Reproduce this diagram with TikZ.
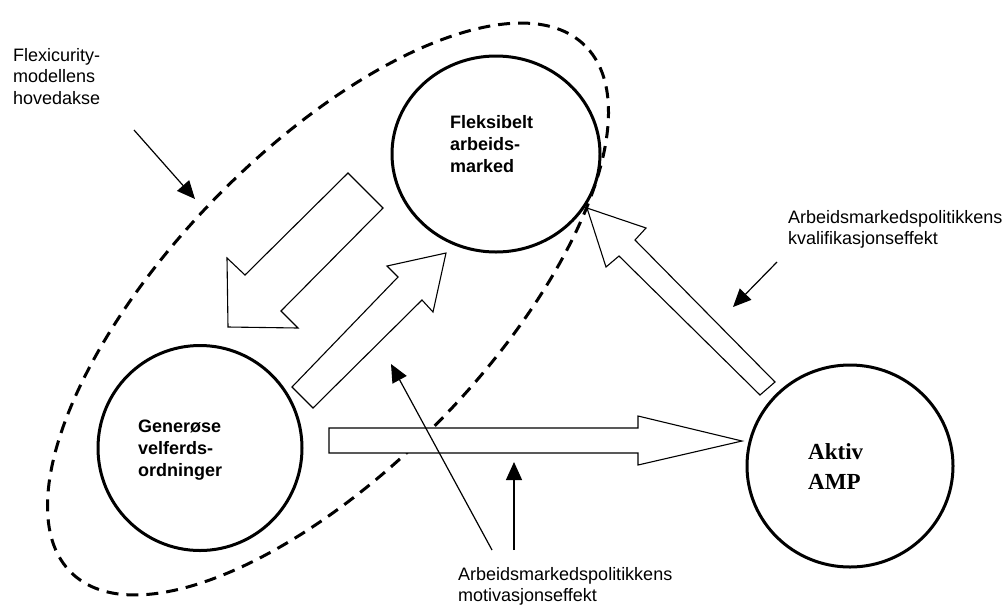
\documentclass[tikz,border=0pt]{standalone}
\usepackage{fontspec}
\setmainfont{Liberation Sans}
\newfontfamily\serifbf{Liberation Serif}
\usetikzlibrary{shapes.geometric,arrows.meta}
\begin{document}
\begin{tikzpicture}[x=1pt,y=-1pt,
  circ/.style={draw, ellipse, line width=3pt, inner sep=0pt},
  blockarrow/.style={draw, fill=white, line width=1.1pt, line join=miter},
  pointer/.style={line width=1.2pt, -{Triangle[length=18pt,width=16pt]}},
  lbl/.style={anchor=north west, inner sep=0pt, align=left, font=\fontsize{18}{21.7}\selectfont},
  ctext/.style={anchor=north west, inner sep=0pt, align=left, font=\fontsize{18}{22}\selectfont\bfseries},
]
\useasboundingbox[fill=white] (0,0) rectangle (1003,606);
% dashed main axis
\node[draw, ellipse, line width=3pt, dash pattern=on 12pt off 8pt, inner sep=0pt,
      minimum width=736pt, minimum height=316pt, rotate=45.8] (axis) at (328,309) {};
% circles
\node[circ, minimum width=208pt, minimum height=196pt] (flex) at (496,154) {};
\node[circ, minimum width=204pt, minimum height=205pt] (gen) at (200,448) {};
\node[circ, minimum width=206pt, minimum height=202pt] (amp) at (850,466) {};
% block arrows
\draw[blockarrow] (348,173) -- (245,275) -- (227,258) -- (228,327) -- (298,328) -- (281,311) -- (383,208) -- cycle;
\draw[blockarrow] (292,387) -- (398,277) -- (387,266) -- (446,253) -- (433,312) -- (422,300) -- (313,408) -- cycle;
\draw[blockarrow] (329,428) -- (638,428) -- (638,416) -- (742,441) -- (638,465) -- (638,453) -- (329,453) -- cycle;
\draw[blockarrow] (775,382) -- (635,240) -- (646,228) -- (587,208) -- (606,267) -- (619,256) -- (760,395) -- cycle;
% texts
\node[lbl] (flexlbl) at (13,48) {Flexicurity-\\modellens\\hovedakse};
\node[lbl] (kvallbl) at (788,210) {Arbeidsmarkedspolitikkens\\kvalifikasjonseffekt};
\node[lbl] (motlbl) at (458,567) {Arbeidsmarkedspolitikkens\\motivasjonseffekt};
\node[ctext] (flextxt) at (450,115) {Fleksibelt\\arbeids-\\marked};
\node[ctext] (gentxt) at (138,420) {Generøse\\velferds-\\ordninger};
\node[anchor=north west, inner sep=0pt, align=left, font=\serifbf\bfseries\fontsize{23}{30}\selectfont] (amptxt) at (808,443) {Aktiv\\AMP};
% pointer arrows
\coordinate (fa1) at (134,130); \coordinate (fa2) at (195,199);
\coordinate (ka1) at (777,262); \coordinate (ka2) at (733,307);
\coordinate (ma1) at (492,550); \coordinate (ma2) at (391,364);
\coordinate (mb1) at (514,550); \coordinate (mb2) at (514,462);
\draw[pointer] (fa1) -- (fa2);
\draw[pointer] (ka1) -- (ka2);
\draw[pointer] (ma1) -- (ma2);
\draw[pointer] (mb1) -- (mb2);
\end{tikzpicture}
\end{document}
